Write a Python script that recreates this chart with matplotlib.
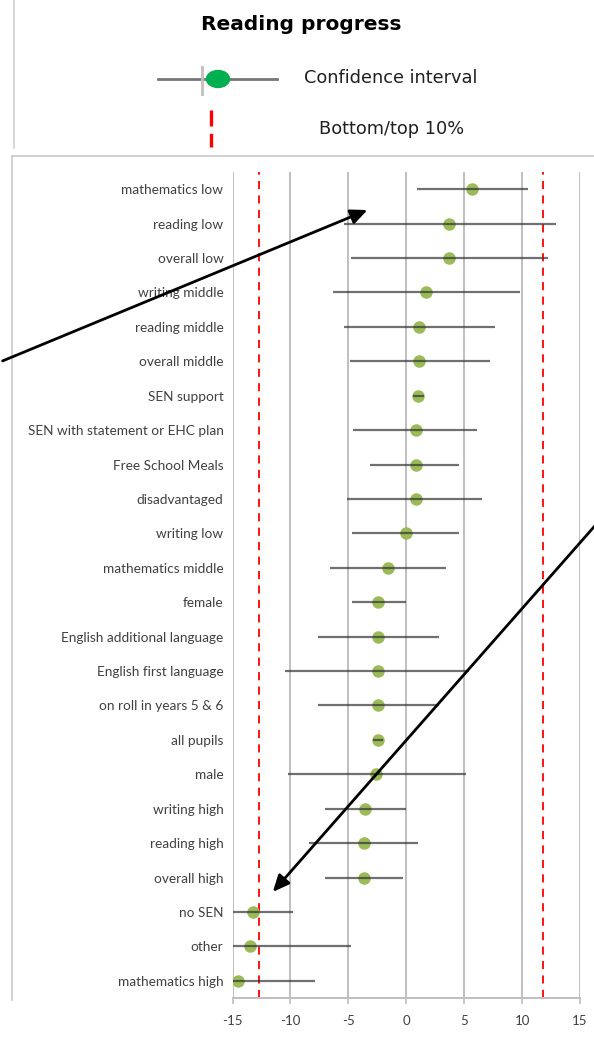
import matplotlib.pyplot as plt
from matplotlib.patches import Ellipse

groups = [
    "mathematics low", "reading low", "overall low", "writing middle",
    "reading middle", "overall middle", "SEN support",
    "SEN with statement or EHC plan", "Free School Meals", "disadvantaged",
    "writing low", "mathematics middle", "female",
    "English additional language", "English first language",
    "on roll in years 5 & 6", "all pupils", "male", "writing high",
    "reading high", "overall high", "no SEN", "other", "mathematics high",
]
score = [5.7, 3.7, 3.7, 1.7, 1.1, 1.1, 1.0, 0.8, 0.8, 0.8, -0.05, -1.55, -2.4,
         -2.45, -2.45, -2.45, -2.45, -2.6, -3.6, -3.65, -3.65, -13.2, -13.45, -14.5]
ci_low = [0.9, -5.4, -4.75, -6.35, -5.4, -4.85, 0.6, -4.6, -3.1, -5.1, -4.7, -6.6,
          -4.7, -7.65, -10.45, -7.65, -2.9, -10.25, -7.05, -8.4, -7.05, -15, -15, -15]
ci_high = [10.5, 12.9, 12.25, 9.85, 7.7, 7.2, 1.55, 6.15, 4.55, 6.55, 4.55, 3.45,
           0.0, 2.8, 5.4, 2.8, -2.0, 5.2, 0.0, 1.05, -0.25, -9.75, -4.8, -7.85]
bottom_10, top_10 = -12.7, 11.8
xticks = [-15, -10, -5, 0, 5, 10, 15]

W, H = 594, 1037
fig = plt.figure(figsize=(W / 100, H / 100), dpi=100)

# main plot area (pixel box 232.5..580 x, 172..998 y)
ax = fig.add_axes([232.5 / W, (H - 998) / H, 347.5 / W, 826 / H])
y = list(range(len(groups)))
ax.plot(score, y, "o", color="#9BBB59", ms=9, mec="none", zorder=3)
ax.hlines(y, ci_low, ci_high, color="#333333", lw=1.6, alpha=0.7, zorder=4)
for v in (bottom_10, top_10):
    ax.axvline(v, color="#FF0000", lw=1.3, ls=(0, (4.5, 3.5)), zorder=2)

ax.set_xlim(-15, 15)
ax.set_ylim(len(groups) - 0.5, -0.5)
ax.set_xticks(xticks)
ax.set_xticklabels([str(t) for t in xticks], fontsize=9.5, color="#404040",
                   family="Lato")
ax.set_yticks(y)
ax.set_yticklabels(groups, fontsize=9.8, color="#404040", family="Lato")
ax.tick_params(axis="y", length=0, pad=6.5)
ax.tick_params(axis="x", length=4, color="#BFBFBF", width=1.2, pad=8)
ax.grid(axis="x", color="#BFBFBF", lw=1.4, zorder=1)
for s in ("top", "right", "left"):
    ax.spines[s].set_visible(False)
ax.spines["bottom"].set_color("#BFBFBF")
ax.spines["bottom"].set_linewidth(1.4)

# overlay for frames, legend and arrows
ov = fig.add_axes([0, 0, 1, 1], facecolor="none")
ov.set_xlim(0, W)
ov.set_ylim(H, 0)
ov.axis("off")

ov.plot([14, 14], [0, 148], color="#D0D0D0", lw=1.2)
ov.plot([12, W], [156, 156], color="#C8C8C8", lw=1.2)
ov.plot([12, 12], [156, 1000], color="#C8C8C8", lw=1.2)

ov.text(301, 25, "Reading progress", ha="center", va="center",
        fontsize=14.5, fontweight="bold", family="DejaVu Sans")

ov.plot([158, 277], [79, 79], color="#777777", lw=2)
ov.plot([202, 202], [67, 94], color="#C0C0C0", lw=2)
ov.add_patch(Ellipse((218, 79), 23, 17, color="#00B050", zorder=5))
ov.text(304, 78, "Confidence interval", ha="left", va="center", fontsize=12.8,
        color="#202020", family="DejaVu Sans")
ov.plot([211, 211], [110, 147], color="#FF0000", lw=2.4, ls=(0, (4.8, 2.2)))
ov.text(392, 129, "Bottom/top 10%", ha="center", va="center", fontsize=12.8,
        color="#202020", family="DejaVu Sans")

ov.annotate("", xy=(370, 209), xytext=(0, 362),
            arrowprops=dict(arrowstyle="-|>,head_length=1.0,head_width=0.45",
                            color="black", lw=2))
ov.annotate("", xy=(271, 894), xytext=(600, 520),
            arrowprops=dict(arrowstyle="-|>,head_length=1.0,head_width=0.45",
                            color="black", lw=2))

fig.savefig("out.png", dpi=100)
